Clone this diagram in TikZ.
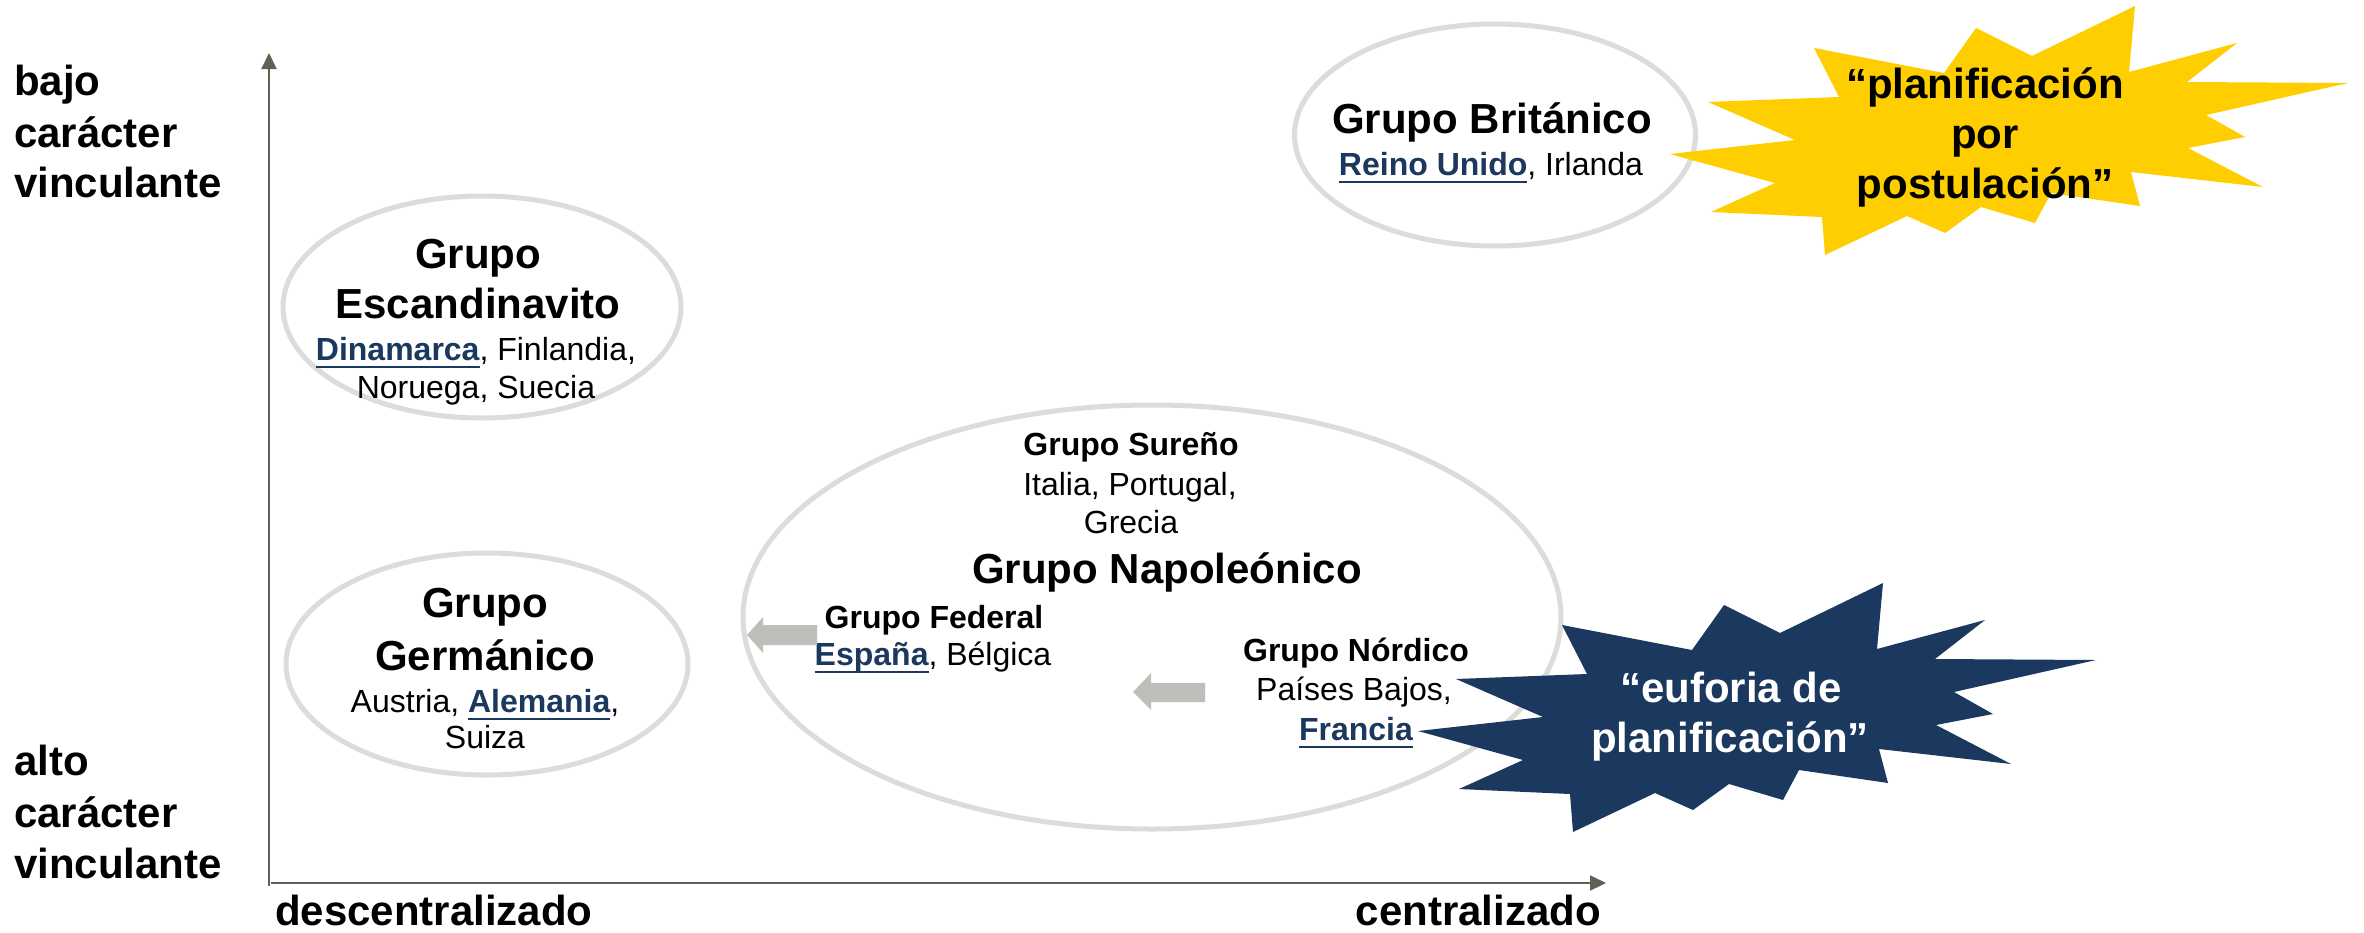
\documentclass[tikz,border=0pt]{standalone}
\usepackage{fontspec}
\setmainfont{Liberation Sans}
\usetikzlibrary{arrows.meta,shapes.geometric}
\definecolor{axisgray}{RGB}{96,96,86}
\definecolor{ringgray}{RGB}{220,220,218}
\definecolor{arrowgray}{RGB}{191,191,186}
\definecolor{navy}{RGB}{27,56,94}
\definecolor{staryellow}{RGB}{255,206,0}
\newcommand\blueword[1]{{\bfseries\color{navy}\setbox0\hbox{#1}\rlap{\rule[-8pt]{\wd0}{2.5pt}}\box0}}
\tikzset{
  ttl/.style={anchor=base, inner sep=0pt, font=\fontsize{42}{50}\selectfont\bfseries},
  sub/.style={anchor=base, inner sep=0pt, font=\fontsize{32}{38}\selectfont\bfseries},
  txt/.style={anchor=base, inner sep=0pt, font=\fontsize{32}{38}\selectfont},
  axlbl/.style={anchor=base west, inner sep=0pt, font=\fontsize{42}{50}\selectfont\bfseries},
  ring/.style={ellipse, draw=ringgray, line width=5pt, fill=white, inner sep=0pt},
  axisline/.style={draw=axisgray, line width=2pt, -{Triangle[length=16pt,width=15pt]}},
  blockarrow/.style={fill=arrowgray},
  burst/.pic={
    \path[pic actions] (2135,6) -- (2129,72) -- (2237,43) -- (2187,82) -- (2348,83)
      -- (2206,115) -- (2245,137) -- (2188,148) -- (2263,187) -- (2131,172)
      -- (2140,206) -- (2051,193) -- (2035,223) -- (1981,207) -- (1945,233)
      -- (1907,216) -- (1825,255) -- (1822,217) -- (1711,212) -- (1775,183)
      -- (1670,154) -- (1795,140) -- (1708,102) -- (1839,97) -- (1814,48)
      -- (1944,73) -- (1976,28) -- (2032,56) -- cycle;
  }
}
\begin{document}
\begin{tikzpicture}[x=1pt,y=-1pt]
\useasboundingbox (0,0) rectangle (2364,932);
\fill[white] (0,0) rectangle (2364,932);

% axes
\coordinate (origin) at (269,886);
\coordinate (ytop) at (269,53);
\coordinate (xstart) at (271,883);
\coordinate (xend) at (1606,883);
\draw[axisline] (origin) -- (ytop);
\draw[axisline] (xstart) -- (xend);

% axis labels
\node[axlbl] (yl1) at (14,95) {bajo};
\node[axlbl] (yl2) at (14,147) {carácter};
\node[axlbl] (yl3) at (14,197) {vinculante};
\node[axlbl] (yl4) at (14,775) {alto};
\node[axlbl] (yl5) at (14,827) {carácter};
\node[axlbl] (yl6) at (14,878) {vinculante};
\node[axlbl] (xl1) at (275,925) {descentralizado};
\node[axlbl, anchor=base east] (xl2) at (1601,925) {centralizado};

% rings
\node[ring, minimum width=398pt, minimum height=222pt] (escring) at (482,307) {};
\node[ring, minimum width=402pt, minimum height=222pt] (gerring) at (487,664) {};
\node[ring, minimum width=818pt, minimum height=424pt] (naporing) at (1152,617) {};
\node[ring, minimum width=401pt, minimum height=222pt] (briring) at (1495,135) {};

% Escandinavito
\node[ttl] (esc1) at (478,268) {Grupo};
\node[ttl] (esc2) at (478,318) {Escandinavito};
\node[txt] (esc3) at (476,360) {\blueword{Dinamarca}, Finlandia,};
\node[txt] (esc4) at (476,398) {Noruega, Suecia};

% Germanico
\node[ttl] (ger1) at (485,617) {Grupo};
\node[ttl] (ger2) at (485,670) {Germánico};
\node[txt] (ger3) at (485,712) {Austria, \blueword{Alemania},};
\node[txt] (ger4) at (485,748) {Suiza};

% Britanico
\node[ttl] (bri1) at (1492,133) {Grupo Británico};
\node[txt] (bri2) at (1491,175) {\blueword{Reino Unido}, Irlanda};

% Napoleonico
\node[sub] (sur1) at (1131,455) {Grupo Sureño};
\node[txt] (sur2) at (1130,495) {Italia, Portugal,};
\node[txt] (sur3) at (1131,533) {Grecia};
\node[ttl] (napo) at (1167,583) {Grupo Napoleónico};
\node[sub] (fed1) at (934,628) {Grupo Federal};
\node[txt] (fed2) at (933,665) {\blueword{España}, Bélgica};
\node[sub] (nor1) at (1356,661) {Grupo Nórdico};
\node[txt] (nor2) at (1354,700) {Países Bajos,};
\node[txt] (nor3) at (1356,740) {\blueword{Francia}};

% block arrows
\fill[blockarrow] (747,635) -- (763,617) -- (763,625) -- (817,625) -- (817,645)
  -- (763,645) -- (763,653) -- cycle;
\fill[blockarrow] (1133,692) -- (1151,673) -- (1151,683) -- (1205,683) -- (1205,702)
  -- (1151,702) -- (1151,710) -- cycle;

% bursts
\pic[fill=staryellow] (ystar) at (0,0) {burst};
\pic[fill=navy] (dstar) at (-252,577) {burst};

\node[ttl] (yq1) at (1985,98) {“planificación};
\node[ttl] (yq2) at (1985,148) {por};
\node[ttl] (yq3) at (1985,198) {postulación”};
\node[ttl, text=white] (dq1) at (1731,702) {“euforia de};
\node[ttl, text=white] (dq2) at (1730,752) {planificación”};
\end{tikzpicture}
\end{document}
